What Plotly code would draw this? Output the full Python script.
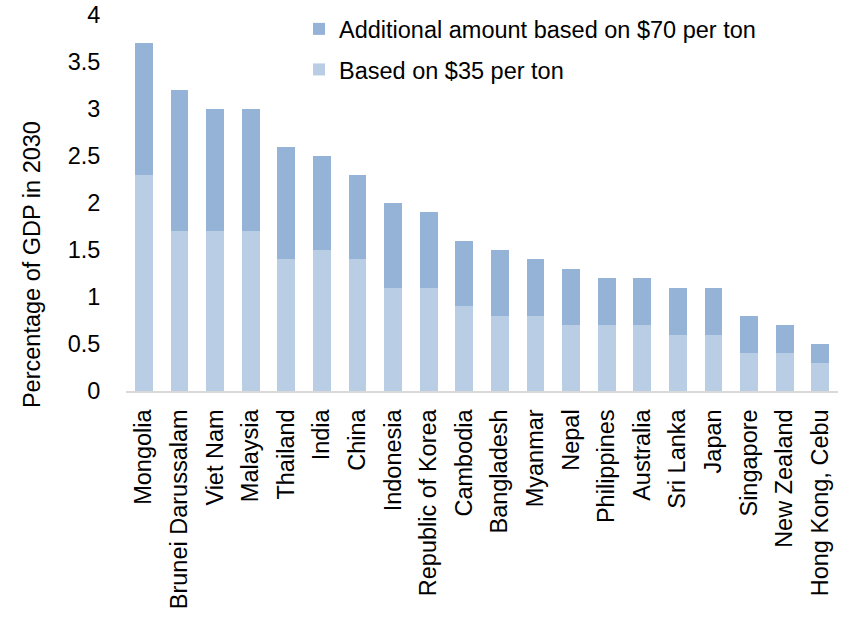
import plotly.graph_objects as go

# Carbon price revenue as share of GDP in 2030
countries = [
    "Mongolia", "Brunei Darussalam", "Viet Nam", "Malaysia", "Thailand",
    "India", "China", "Indonesia", "Republic of Korea", "Cambodia",
    "Bangladesh", "Myanmar", "Nepal", "Philippines", "Australia",
    "Sri Lanka", "Japan", "Singapore", "New Zealand", "Hong Kong, Cebu",
]
base_35 = [2.3, 1.7, 1.7, 1.7, 1.4, 1.5, 1.4, 1.1, 1.1, 0.9,
           0.8, 0.8, 0.7, 0.7, 0.7, 0.6, 0.6, 0.4, 0.4, 0.3]
extra_70 = [1.4, 1.5, 1.3, 1.3, 1.2, 1.0, 0.9, 0.9, 0.8, 0.7,
            0.7, 0.6, 0.6, 0.5, 0.5, 0.5, 0.5, 0.4, 0.3, 0.2]

font = "Liberation Sans, Arial, sans-serif"
fs = 23.5

fig = go.Figure()
fig.add_trace(go.Bar(x=countries, y=base_35, name="Based on $35 per ton",
                     legendgroup="a", legendrank=2,
                     marker_color="#B9CDE5", marker_line_width=0))
fig.add_trace(go.Bar(x=countries, y=extra_70, name="Additional amount based on $70 per ton",
                     legendgroup="b", legendrank=1,
                     marker_color="#95B3D7", marker_line_width=0))

fig.update_layout(
    barmode="stack",
    bargap=0.5,
    width=842,
    height=634,
    margin=dict(l=126, r=4, t=15, b=243, autoexpand=False),
    plot_bgcolor="white",
    paper_bgcolor="white",
    font=dict(family=font, size=fs, color="#000000"),
    legend=dict(
        x=0.243, y=1.021, xanchor="left", yanchor="top",
        traceorder="grouped",
        font=dict(size=fs),
        itemwidth=30,
        tracegroupgap=7,
        bgcolor="rgba(0,0,0,0)",
    ),
    showlegend=True,
)
# y-axis title placed as annotation (sits lower than plot centre in the original)
fig.add_annotation(
    text="Percentage of GDP in 2030", textangle=-90,
    xref="paper", yref="paper", x=-0.132, y=0.335,
    xanchor="center", yanchor="middle",
    showarrow=False, font=dict(size=fs),
)
fig.update_xaxes(
    tickangle=-90, automargin=False,
    showline=True, linecolor="#D9D9D9", linewidth=2,
    ticks="outside", ticklen=7, tickcolor="rgba(0,0,0,0)",
    tickfont=dict(size=fs),
)
fig.update_yaxes(
    range=[0, 4], dtick=0.5, automargin=False,
    showgrid=False, zeroline=False, showline=False,
    ticks="outside", ticklen=20, tickcolor="rgba(0,0,0,0)",
    ticklabeloverflow="allow",
    tickfont=dict(size=fs),
)

# drop the default 8px page margin so the figure sits at the window origin
fig.write_html(
    "out.html",
    config={"displayModeBar": False},
    post_script="document.body.style.margin='0';",
)
